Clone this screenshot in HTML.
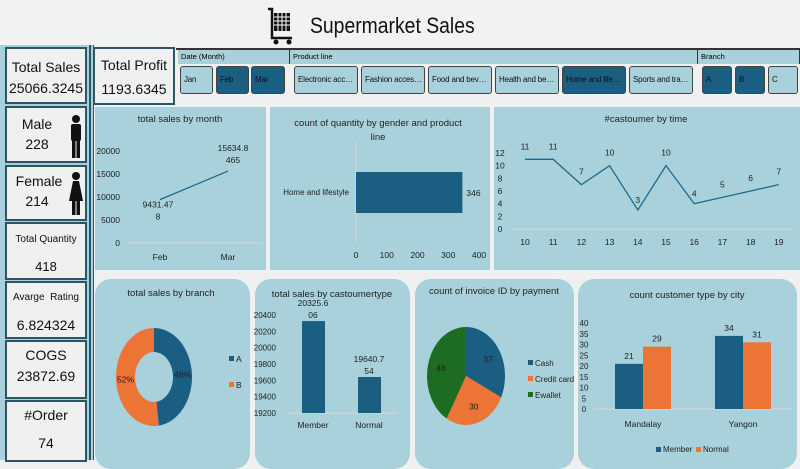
<!DOCTYPE html>
<html><head><meta charset="utf-8"><style>
body{margin:0;width:800px;height:460px;overflow:hidden;background:#f0f0f0;font-family:"Liberation Sans",sans-serif;position:relative}
.a{position:absolute}
.card{position:absolute;background:#f0f0f0;border:2px solid #2e5566;box-sizing:border-box;text-align:center;color:#111}
.btn{position:absolute;top:66px;height:28px;border:1px solid #444;border-radius:3px;box-sizing:border-box;background:#a8d1dc;font-size:8px;letter-spacing:-0.2px;line-height:26px;padding-left:3px;padding-right:2px;white-space:nowrap;overflow:hidden;text-overflow:ellipsis;color:#111}
.btn.on{background:#1a5e82}
.hdr{position:absolute;top:50px;height:14px;background:#a8d1dc;font-size:7.5px;line-height:14px;padding-left:3px;box-sizing:border-box;border-right:1px solid #333}
.panel{position:absolute;background:#a8d1dc}
svg text{font-family:"Liberation Sans",sans-serif;fill:#222}
</style></head><body>
<div class="a" style="left:0;top:0;width:800px;height:46px;background:#f2f2f2"></div>
<svg class="a" style="left:266px;top:6px" width="30" height="40" viewBox="0 0 30 40">
<path d="M2 3 L6 3 L6 32 L26 32" stroke="#111" stroke-width="2.5" fill="none"/>
<rect x="8" y="7" width="16" height="18" fill="#111"/>
<path d="M12 7V25M16 7V25M20 7V25M8 11H24M8 15H24M8 19H24" stroke="#fff" stroke-width="1"/>
<circle cx="10" cy="36" r="2.5" fill="#111"/><circle cx="23" cy="36" r="2.5" fill="#111"/></svg>
<div class="a" style="left:310px;top:13px;font-size:22px;color:#111;transform:scaleX(0.88);transform-origin:left">Supermarket Sales</div>

<div class="a" style="left:0;top:45px;width:90px;height:415px;background:#a8d1dc"></div>
<div class="a" style="left:89px;top:45px;width:5px;height:415px;background:#a8d1dc;border-left:2px solid #2e5566;border-right:1px solid #2e5566;box-sizing:border-box"></div>
<div class="card" style="left:5px;top:47px;width:82px;height:57px"><div style="font-size:14px;margin-top:10px">Total Sales</div><div style="font-size:14px;margin-top:5px">25066.3245</div></div>
<div class="card" style="left:5px;top:106px;width:82px;height:57px"><div style="font-size:14px;margin-top:8px;margin-right:18px">Male</div><div style="font-size:14px;margin-top:4px;margin-right:18px">228</div>
<svg class="a" style="left:61px;top:6px" width="16" height="46" viewBox="0 0 16 46"><circle cx="8" cy="5" r="4" fill="#111"/><rect x="3" y="10" width="10" height="17" rx="2" fill="#111"/><rect x="4" y="25" width="3.5" height="19" fill="#111"/><rect x="8.5" y="25" width="3.5" height="19" fill="#111"/></svg></div>
<div class="card" style="left:5px;top:165px;width:82px;height:56px"><div style="font-size:14px;margin-top:6px;margin-right:14px">Female</div><div style="font-size:14px;margin-top:4px;margin-right:18px">214</div>
<svg class="a" style="left:61px;top:4px" width="16" height="46" viewBox="0 0 16 46"><circle cx="8" cy="5" r="4" fill="#111"/><path d="M5 10H11L15 30H1Z" fill="#111"/><rect x="4" y="28" width="3.5" height="16" fill="#111"/><rect x="8.5" y="28" width="3.5" height="16" fill="#111"/></svg></div>
<div class="card" style="left:5px;top:222px;width:82px;height:58px"><div style="font-size:10px;margin-top:10px">Total Quantity</div><div style="font-size:13px;margin-top:14px">418</div></div>
<div class="card" style="left:5px;top:281px;width:82px;height:58px"><div style="font-size:10px;margin-top:9px">Avarge&nbsp; Rating</div><div style="font-size:14px;margin-top:14px">6.824324</div></div>
<div class="card" style="left:5px;top:340px;width:82px;height:59px"><div style="font-size:14px;margin-top:5px">COGS</div><div style="font-size:14px;margin-top:5px">23872.69</div></div>
<div class="card" style="left:5px;top:400px;width:82px;height:62px"><div style="font-size:14px;margin-top:5px">#Order</div><div style="font-size:14px;margin-top:12px">74</div></div>
<div class="card" style="left:93px;top:47px;width:82px;height:58px"><div style="font-size:14px;margin-top:8px">Total Profit</div><div style="font-size:14px;margin-top:8px">1193.6345</div></div>

<div class="a" style="left:176px;top:48px;width:624px;height:2px;background:#333"></div>
<div class="hdr" style="left:178px;width:112px">Date (Month)</div>
<div class="hdr" style="left:290px;width:408px">Product line</div>
<div class="hdr" style="left:698px;width:102px">Branch</div>
<div class="btn" style="left:180px;width:33px">Jan</div>
<div class="btn on" style="left:216px;width:33px">Feb</div>
<div class="btn on" style="left:251px;width:34px">Mar</div>
<div class="btn" style="left:294px;width:64px">Electronic accessories</div>
<div class="btn" style="left:361px;width:64px">Fashion accessories</div>
<div class="btn" style="left:428px;width:64px">Food and beverages</div>
<div class="btn" style="left:495px;width:64px">Health and beauty</div>
<div class="btn on" style="left:562px;width:64px">Home and lifestyle</div>
<div class="btn" style="left:629px;width:64px">Sports and travel</div>
<div class="btn on" style="left:702px;width:30px">A</div>
<div class="btn on" style="left:735px;width:30px">B</div>
<div class="btn" style="left:768px;width:30px">C</div>

<div class="panel" style="left:95px;top:107px;width:171px;height:163px"></div>
<div class="panel" style="left:270px;top:107px;width:220px;height:163px"></div>
<div class="panel" style="left:494px;top:107px;width:306px;height:163px"></div>
<div class="panel" style="left:95px;top:279px;width:155px;height:190px;border-radius:16px"></div>
<div class="panel" style="left:255px;top:279px;width:155px;height:190px;border-radius:16px"></div>
<div class="panel" style="left:415px;top:279px;width:159px;height:190px;border-radius:16px"></div>
<div class="panel" style="left:578px;top:279px;width:219px;height:190px;border-radius:16px"></div>

<svg id="c" class="a" style="left:0;top:0" width="800" height="460"></svg>
<script>
const monthCats=["Feb","Mar"];
const monthSales=[9431.478,15634.8465];
const monthLabels=[["9431.47","8"],["15634.8","465"]];
const monthTicks=[0,5000,10000,15000,20000];
const prodCats=["Home and lifestyle"];
const prodQty=[346];
const prodTicks=[0,100,200,300,400];
const hours=[10,11,12,13,14,15,16,17,18,19];
const hourCounts=[11,11,7,10,3,10,4,5,6,7];
const hourTicks=[0,2,4,6,8,10,12];
const branchCats=["A","B"];
const branchShare=[48,52];
const custCats=["Member","Normal"];
const custSales=[20325.606,19640.754];
const custLabels=[["20325.6","06"],["19640.7","54"]];
const custTicks=[19200,19400,19600,19800,20000,20200,20400];
const payCats=["Cash","Credit card","Ewallet"];
const payCounts=[37,30,48];
const cityCats=["Mandalay","Yangon"];
const cityMember=[21,34];
const cityNormal=[29,31];
const cityTicks=[0,5,10,15,20,25,30,35,40];

const S=document.getElementById('c');const NS="http://www.w3.org/2000/svg";
const BLUE="#1a5e82",OR="#ec7434",GR="#1e6b22";
function el(t,a,name){const e=document.createElementNS(NS,t);for(const k in a)e.setAttribute(k,a[k]);


S.appendChild(e);return e;}
function tx(x,y,s,sz,anc,name){const e=el('text',{x:x,y:y,'font-size':sz||9,'text-anchor':anc||'middle'},name||'label');e.textContent=s;return e;}

tx(180,122,"total sales by month",9.5,'middle','chart-title');
tx(378,126,"count of quantity by gender and product",9.5,'middle','chart-title');
tx(378,140,"line",9.5,'middle','chart-title');
tx(646,122,"#castoumer by time",9.5,'middle','chart-title');
tx(171,296,"total sales by branch",9.5,'middle','chart-title');
tx(332,297,"total sales by castoumertype",9.5,'middle','chart-title');
tx(494,294,"count of invoice ID by payment",9.5,'middle','chart-title');
tx(687,298,"count customer type by city",9.5,'middle','chart-title');

{const y=v=>243-v/20000*92;const x=i=>160+i*68;
el('line',{x1:127,x2:262,y1:243,y2:243,stroke:'#d9d9d9','stroke-width':1},'x-axis');
monthTicks.forEach(t=>tx(120,y(t)+3,t,8.5,'end','y-tick'));
monthCats.forEach((c,i)=>tx(x(i),260,c,8.5,'middle','x-tick'));
el('polyline',{points:monthSales.map((v,i)=>x(i)+','+y(v)).join(' '),fill:'none',stroke:'#1f6b8f','stroke-width':1.3},'sales-line');
tx(x(0)-2,y(monthSales[0])+8,monthLabels[0][0],8.5,'middle','point-label');tx(x(0)-2,y(monthSales[0])+20,monthLabels[0][1],8.5,'middle','point-label');
tx(x(1)+5,y(monthSales[1])-20,monthLabels[1][0],8.5,'middle','point-label');tx(x(1)+5,y(monthSales[1])-8,monthLabels[1][1],8.5,'middle','point-label');}

{const x=v=>356+v/400*123;
el('line',{x1:356,x2:356,y1:142,y2:242,stroke:'#d9d9d9'},'y-axis');
prodTicks.forEach(t=>tx(x(t),258,t,8.5,'middle','x-tick'));
prodCats.forEach((c,i)=>{el('rect',{x:356,y:172,width:x(prodQty[i])-356,height:41,fill:BLUE},'bar-home-lifestyle');
tx(349,195,c,8,'end','category-label');tx(x(prodQty[i])+4,196,prodQty[i],8.5,'start','bar-value');});}

{const y=v=>229-v/12*76;const x=i=>525+i*28.2;
el('line',{x1:511,x2:794,y1:229,y2:229,stroke:'#d9d9d9'},'x-axis');
hourTicks.forEach(t=>tx(500,y(t)+3,t,8.5,'middle','y-tick'));
hours.forEach((h,i)=>tx(x(i),245,h,8.5,'middle','x-tick'));
el('polyline',{points:hourCounts.map((v,i)=>x(i)+','+y(v)).join(' '),fill:'none',stroke:'#1f6b8f','stroke-width':1.3},'customer-line');
hourCounts.forEach((v,i)=>tx(x(i),y(v)-(i==4||i==6?7:10),v,8.5,'middle','point-label'));}

{const cx=154,cy=377,rx=38,ry=49,irx=19,iry=25;let a0=0;const tot=branchShare.reduce((a,b)=>a+b,0);const cols=[BLUE,OR];
branchShare.forEach((v,i)=>{const a1=a0+v/tot*2*Math.PI;const p=(r1,r2,a)=>[cx+r1*Math.sin(a),cy-r2*Math.cos(a)];
const [x0,y0]=p(rx,ry,a0),[x1,y1]=p(rx,ry,a1),[x2,y2]=p(irx,iry,a1),[x3,y3]=p(irx,iry,a0);const lg=(a1-a0)>Math.PI?1:0;
el('path',{d:`M${x0},${y0}A${rx},${ry} 0 ${lg} 1 ${x1},${y1}L${x2},${y2}A${irx},${iry} 0 ${lg} 0 ${x3},${y3}Z`,fill:cols[i]},'donut-slice-'+branchCats[i]);
const am=(a0+a1)/2;const [lx,ly]=p(28.5,37,am);tx(lx,ly+3,v+'%',8.5,'middle','slice-label');
el('rect',{x:229,y:356+i*26,width:5,height:5,fill:cols[i]},'legend-swatch');tx(236,362+i*26,branchCats[i],8.5,'start','legend-entry');
a0=a1;});}

{const y=v=>413-(v-19200)/1200*98;
custTicks.forEach(t=>tx(276,y(t)+3,t,8,'end','y-tick'));
el('line',{x1:286,x2:397,y1:413,y2:413,stroke:'#d9d9d9'},'x-axis');
custCats.forEach((c,i)=>{const cx=313+i*56;el('rect',{x:cx-11,y:y(custSales[i]),width:23,height:413-y(custSales[i]),fill:BLUE},'bar-'+c.toLowerCase());
tx(cx,428,c,8.5,'middle','x-tick');tx(cx,y(custSales[i])-15,custLabels[i][0],8.5,'middle','bar-value');tx(cx,y(custSales[i])-3,custLabels[i][1],8.5,'middle','bar-value');});}

{const cx=466,cy=376,rx=39,ry=49;let a0=0;const tot=payCounts.reduce((a,b)=>a+b,0);const cols=[BLUE,OR,GR];
payCounts.forEach((v,i)=>{const a1=a0+v/tot*2*Math.PI;const p=(r1,r2,a)=>[cx+r1*Math.sin(a),cy-r2*Math.cos(a)];
const [x0,y0]=p(rx,ry,a0),[x1,y1]=p(rx,ry,a1);const lg=(a1-a0)>Math.PI?1:0;
el('path',{d:`M${cx},${cy}L${x0},${y0}A${rx},${ry} 0 ${lg} 1 ${x1},${y1}Z`,fill:cols[i]},'pie-slice-'+payCats[i]);
const [lx,ly]=p(26,32,(a0+a1)/2);tx(lx,ly+3,v,8.5,'middle','slice-label');
el('rect',{x:528,y:360+i*16,width:5,height:5,fill:cols[i]},'legend-swatch');tx(535,366+i*16,payCats[i],8,'start','legend-entry');a0=a1;});}

{const y=v=>409-v*2.15;
cityTicks.forEach(t=>tx(584,y(t)+3,t,8,'middle','y-tick'));
el('line',{x1:594,x2:792,y1:409,y2:409,stroke:'#d9d9d9'},'x-axis');
cityCats.forEach((c,i)=>{const g=643+i*100;
el('rect',{x:g-28,y:y(cityMember[i]),width:28,height:409-y(cityMember[i]),fill:BLUE},'bar-member-'+c.toLowerCase());
el('rect',{x:g,y:y(cityNormal[i]),width:28,height:409-y(cityNormal[i]),fill:OR},'bar-normal-'+c.toLowerCase());
tx(g-14,y(cityMember[i])-5,cityMember[i],8.5,'middle','bar-value');tx(g+14,y(cityNormal[i])-5,cityNormal[i],8.5,'middle','bar-value');
tx(g,427,c,8.5,'middle','x-tick');});
el('rect',{x:656,y:447,width:5,height:5,fill:BLUE},'legend-swatch');tx(663,452,"Member",8,'start','legend-entry');
el('rect',{x:696,y:447,width:5,height:5,fill:OR},'legend-swatch');tx(703,452,"Normal",8,'start','legend-entry');}
</script>
</body></html>
